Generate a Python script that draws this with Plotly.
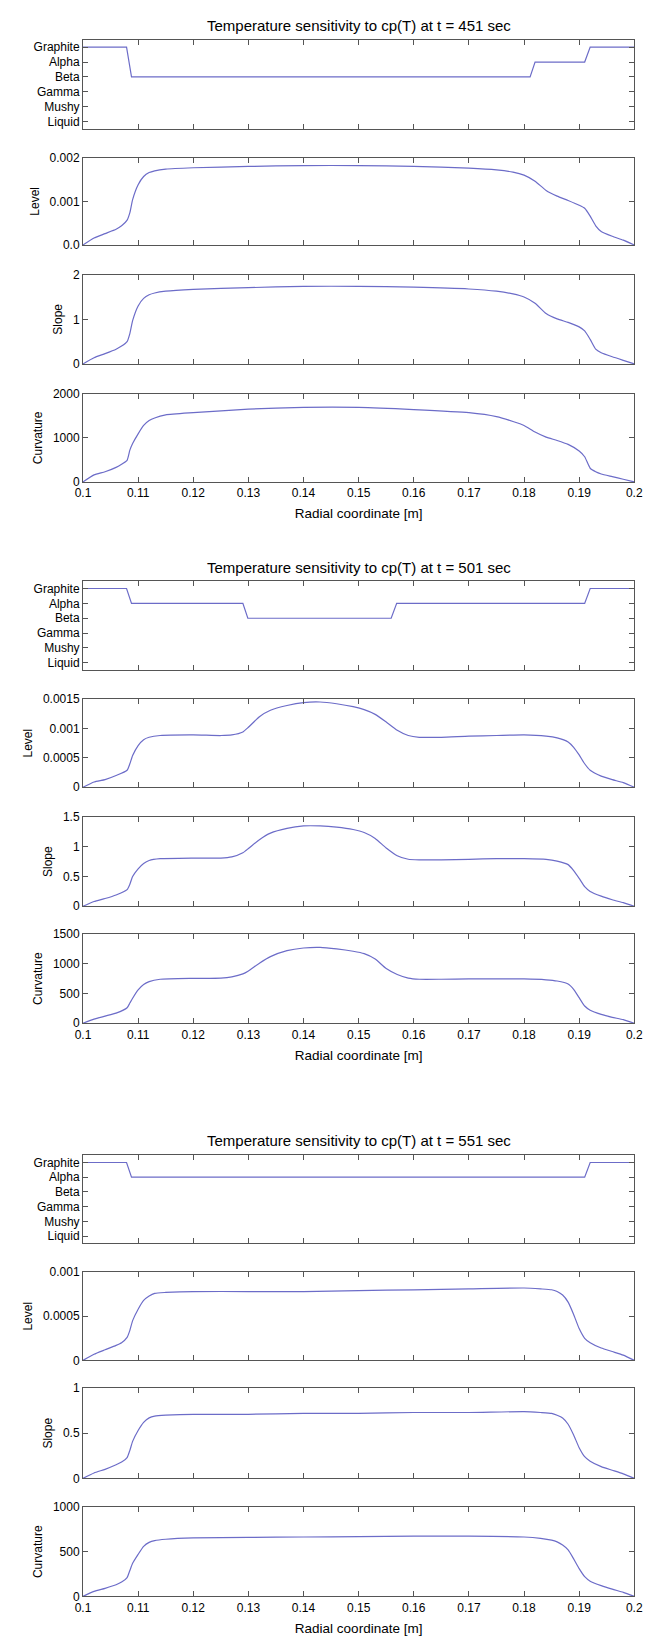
import plotly.graph_objects as go

# ---------------- data ----------------
phase_order = ["Liquid", "Mushy", "Gamma", "Beta", "Alpha", "Graphite"]

# group 1 : t = 451 sec
g1_phase_x = [0.1, 0.1079, 0.1088, 0.1811, 0.1820, 0.1910, 0.1920, 0.2]
g1_phase = ["Graphite", "Graphite", "Beta", "Beta", "Alpha", "Alpha", "Graphite", "Graphite"]

g1_x = [0.1, 0.102, 0.104, 0.106, 0.107, 0.108, 0.1085, 0.109, 0.110, 0.111, 0.112, 0.113,
        0.115, 0.12, 0.13, 0.14, 0.15, 0.16, 0.17, 0.175, 0.178, 0.18, 0.182, 0.184, 0.186,
        0.188, 0.19, 0.191, 0.192, 0.193, 0.194, 0.196, 0.198, 0.2]
g1_level = [0.0, 0.00016, 0.00026, 0.00036, 0.00044, 0.00057, 0.00074, 0.00104, 0.00138,
            0.00157, 0.00166, 0.0017, 0.00174, 0.00177, 0.0018, 0.00182, 0.00182, 0.0018,
            0.00176, 0.00172, 0.00167, 0.0016, 0.00146, 0.00125, 0.00112, 0.00102, 0.00091,
            0.00084, 0.00066, 0.00044, 0.00031, 0.0002, 0.00011, 0.0]
g1_slope = [0.0, 0.14, 0.23, 0.33, 0.40, 0.50, 0.68, 0.97, 1.30, 1.47, 1.55, 1.59, 1.63, 1.67,
            1.71, 1.74, 1.74, 1.72, 1.68, 1.63, 1.57, 1.50, 1.36, 1.13, 1.01, 0.93, 0.83, 0.74,
            0.55, 0.33, 0.25, 0.16, 0.08, 0.0]
g1_curv = [0, 160, 230, 330, 400, 490, 720, 870, 1090, 1280, 1390, 1450, 1520, 1570, 1650,
           1690, 1690, 1640, 1570, 1480, 1370, 1280, 1130, 1015, 940, 850, 700, 570, 310, 230,
           180, 120, 60, 0]

# group 2 : t = 501 sec
g2_phase_x = [0.1, 0.1079, 0.1088, 0.1290, 0.1299, 0.1559, 0.1569, 0.1910, 0.1920, 0.2]
g2_phase = ["Graphite", "Graphite", "Alpha", "Alpha", "Beta", "Beta", "Alpha", "Alpha",
            "Graphite", "Graphite"]

g2_x = [0.1, 0.102, 0.104, 0.106, 0.108, 0.1085, 0.109, 0.110, 0.111, 0.112, 0.114, 0.12,
        0.125, 0.127, 0.129, 0.13, 0.132, 0.134, 0.137, 0.14, 0.143, 0.146, 0.149, 0.151,
        0.153, 0.155, 0.157, 0.159, 0.161, 0.165, 0.17, 0.175, 0.18, 0.184, 0.186, 0.188,
        0.189, 0.19, 0.191, 0.192, 0.194, 0.196, 0.198, 0.2]
g2_level = [0.0, 0.00009, 0.00013, 0.0002, 0.00029, 0.0004, 0.00054, 0.00071, 0.00081,
            0.00085, 0.00088, 0.00089, 0.00088, 0.00089, 0.00094, 0.00102, 0.0012, 0.00131,
            0.00139, 0.00144, 0.00145, 0.00142, 0.00137, 0.00132, 0.00124, 0.00111, 0.00097,
            0.00088, 0.00085, 0.00085, 0.00087, 0.00088, 0.00089, 0.00087, 0.00084, 0.00077,
            0.00068, 0.00055, 0.0004, 0.00029, 0.00019, 0.00013, 0.00008, 0.0]
g2_slope = [0.0, 0.08, 0.13, 0.19, 0.28, 0.37, 0.50, 0.63, 0.72, 0.77, 0.80, 0.81, 0.81, 0.83,
            0.90, 0.97, 1.12, 1.23, 1.31, 1.35, 1.35, 1.33, 1.29, 1.24, 1.14, 0.98, 0.85, 0.79,
            0.78, 0.78, 0.79, 0.80, 0.80, 0.79, 0.76, 0.70, 0.60, 0.47, 0.33, 0.25, 0.17, 0.11,
            0.06, 0.0]
g2_curv = [0, 70, 120, 170, 260, 340, 420, 560, 650, 700, 740, 755, 760, 780, 830, 880, 1010,
           1120, 1220, 1265, 1275, 1250, 1210, 1170, 1080, 920, 820, 760, 740, 740, 745, 745,
           745, 730, 710, 660, 570, 430, 290, 220, 150, 100, 60, 0]

# group 3 : t = 551 sec
g3_phase_x = [0.1, 0.1079, 0.1088, 0.1910, 0.1920, 0.2]
g3_phase = ["Graphite", "Graphite", "Alpha", "Alpha", "Graphite", "Graphite"]

g3_x = [0.1, 0.102, 0.104, 0.106, 0.107, 0.108, 0.1085, 0.109, 0.110, 0.111, 0.112, 0.113,
        0.115, 0.12, 0.13, 0.14, 0.15, 0.16, 0.17, 0.18, 0.183, 0.185, 0.186, 0.187, 0.188,
        0.189, 0.19, 0.191, 0.192, 0.194, 0.196, 0.198, 0.2]
g3_level = [0.0, 0.00007, 0.00012, 0.00017, 0.0002, 0.00026, 0.00034, 0.00045, 0.00058,
            0.00068, 0.00073, 0.00076, 0.00077, 0.00078, 0.00078, 0.00078, 0.00079, 0.0008,
            0.00081, 0.00082, 0.00081, 0.0008, 0.00078, 0.00074, 0.00066, 0.00052, 0.00036,
            0.00025, 0.0002, 0.00014, 0.0001, 0.00006, 0.0]
g3_slope = [0.0, 0.06, 0.10, 0.15, 0.18, 0.23, 0.31, 0.41, 0.53, 0.62, 0.67, 0.69, 0.70, 0.71,
            0.71, 0.72, 0.72, 0.73, 0.73, 0.74, 0.73, 0.72, 0.70, 0.67, 0.60, 0.48, 0.34, 0.24,
            0.19, 0.13, 0.09, 0.05, 0.0]
g3_curv = [0, 55, 90, 130, 160, 210, 290, 370, 470, 560, 605, 625, 640, 655, 660, 665, 670,
           675, 675, 665, 650, 630, 610, 575, 520, 420, 310, 220, 170, 120, 80, 45, 0]

titles = ["Temperature sensitivity to cp(T) at t = 451 sec",
          "Temperature sensitivity to cp(T) at t = 501 sec",
          "Temperature sensitivity to cp(T) at t = 551 sec"]
x_ticks = [0.1, 0.11, 0.12, 0.13, 0.14, 0.15, 0.16, 0.17, 0.18, 0.19, 0.2]
x_ticktext = ["0.1", "0.11", "0.12", "0.13", "0.14", "0.15", "0.16", "0.17", "0.18", "0.19", "0.2"]

level_ticks = [[0, 0.001, 0.002], [0, 0.0005, 0.001, 0.0015], [0, 0.0005, 0.001]]
level_text = [["0.0", "0.001", "0.002"], ["0", "0.0005", "0.001", "0.0015"], ["0", "0.0005", "0.001"]]
slope_ticks = [[0, 1, 2], [0, 0.5, 1, 1.5], [0, 0.5, 1]]
slope_text = [["0", "1", "2"], ["0", "0.5", "1", "1.5"], ["0", "0.5", "1"]]
curv_ticks = [[0, 1000, 2000], [0, 500, 1000, 1500], [0, 500, 1000]]
curv_text = [["0", "1000", "2000"], ["0", "500", "1000", "1500"], ["0", "500", "1000"]]

# ---------------- layout geometry (pixels) ----------------
W, H = 654, 1643
XL, XR = 77, 643
boxes = [
    [(33, 123), (152, 240), (270, 360), (390, 479)],
    [(579, 669), (698, 787), (817, 907), (935, 1025)],
    [(1158, 1247), (1276, 1365), (1393, 1484), (1513, 1603)],
]
title_y = [19, 565, 1143]

LINE = "#6c6cc8"
FRAME = "#555555"
TXT = "#000000"
FONT = "Liberation Sans, Arial, sans-serif"

groups = [
    (g1_phase_x, g1_phase, g1_x, g1_level, g1_slope, g1_curv),
    (g2_phase_x, g2_phase, g2_x, g2_level, g2_slope, g2_curv),
    (g3_phase_x, g3_phase, g3_x, g3_level, g3_slope, g3_curv),
]

fig = go.Figure()
layout = dict(width=W, height=H, margin=dict(l=0, r=0, t=0, b=0),
              paper_bgcolor="white", plot_bgcolor="white", showlegend=False,
              font=dict(family=FONT, size=12, color=TXT))
annotations = []


def ydom(top, bot):
    return [1 - bot / H, 1 - top / H]


idx = 0
for g, (px, ph, xx, lv, sl, cv) in enumerate(groups):
    series = [(px, ph), (xx, lv), (xx, sl), (xx, cv)]
    for k, (sx, sy) in enumerate(series):
        idx += 1
        xa = "x" if idx == 1 else f"x{idx}"
        ya = "y" if idx == 1 else f"y{idx}"
        line = dict(color=LINE, width=1.2)
        if k > 0:
            line.update(shape="spline", smoothing=0.5)
        fig.add_trace(go.Scatter(x=sx, y=sy, mode="lines", xaxis=xa, yaxis=ya,
                                 line=line, hoverinfo="skip"))
        xkey = "xaxis" if idx == 1 else f"xaxis{idx}"
        ykey = "yaxis" if idx == 1 else f"yaxis{idx}"
        bottom = (k == 3)
        xaxis = dict(domain=[XL / W, XR / W], anchor=ya, range=[0.1, 0.2],
                     tickmode="array", tickvals=x_ticks, ticktext=x_ticktext,
                     ticks="inside", ticklen=5, tickcolor=FRAME, mirror="ticks",
                     showline=True, linecolor=FRAME, linewidth=1, showgrid=False,
                     zeroline=False, showticklabels=bottom, ticklabeloverflow="allow",
                     tickfont=dict(size=12, color=TXT, family=FONT))
        if bottom:
            xaxis["title"] = dict(text="Radial coordinate [m]", standoff=9,
                                  font=dict(size=13.5, color=TXT, family=FONT))
        top, bot = boxes[g][k]
        yaxis = dict(domain=ydom(top, bot), anchor=xa, ticks="inside", ticklen=5,
                     tickcolor=FRAME, mirror="ticks", showline=True, linecolor=FRAME,
                     linewidth=1, showgrid=False, zeroline=False,
                     tickfont=dict(size=12, color=TXT, family=FONT))
        if k == 0:
            yaxis.update(type="category", categoryorder="array", categoryarray=phase_order,
                         range=[-0.5, 5.5])
        else:
            tv, tt, name = [(level_ticks[g], level_text[g], "Level"),
                            (slope_ticks[g], slope_text[g], "Slope"),
                            (curv_ticks[g], curv_text[g], "Curvature")][k - 1]
            yaxis.update(range=[tv[0], tv[-1]], tickmode="array", tickvals=tv, ticktext=tt,
                         title=dict(text=name, standoff=7,
                                    font=dict(size=12, color=TXT, family=FONT)))
        layout[xkey] = xaxis
        layout[ykey] = yaxis
    annotations.append(dict(text=titles[g], x=(XL + XR) / 2 / W, y=1 - title_y[g] / H,
                            xref="paper", yref="paper", xanchor="center", yanchor="middle",
                            showarrow=False, font=dict(size=15, color=TXT, family=FONT)))

layout["annotations"] = annotations
fig.update_layout(**layout)
fig.write_html("out.html", config={"displayModeBar": False, "staticPlot": True},
               post_script="document.body.style.margin='0';")
